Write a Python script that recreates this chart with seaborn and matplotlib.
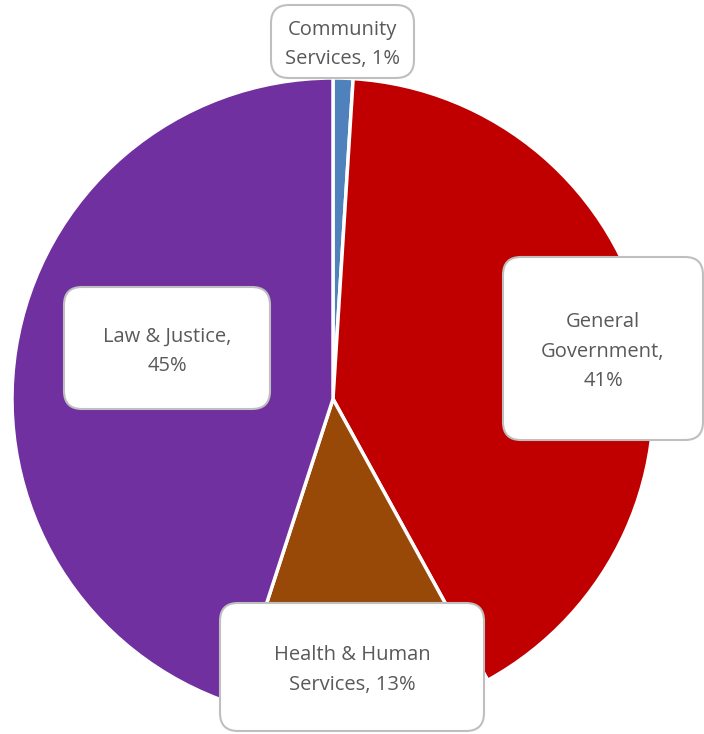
import matplotlib
matplotlib.use("Agg")
import matplotlib.pyplot as plt
from matplotlib.patches import FancyBboxPatch
import seaborn as sns

# Budget share by service area
categories = ["Community Services", "General Government", "Health & Human Services", "Law & Justice"]
shares = [1, 41, 13, 45]
label_lines = ["Community\nServices, {}%", "General\nGovernment,\n{}%", "Health & Human\nServices, {}%", "Law & Justice,\n{}%"]

sns.set_theme(style="white")
plt.rcParams["font.family"] = ["Open Sans", "DejaVu Sans"]

colors = sns.color_palette(["#4F81BD", "#C00000", "#984807", "#7030A0"])

W, H = 704, 734
fig = plt.figure(figsize=(W / 100, H / 100), dpi=100)
ax = fig.add_axes([0, 0, 1, 1])

cx, cy, r = 333, H - 399, 321
ax.pie(shares, colors=colors, startangle=90, counterclock=False,
       center=(cx, cy), radius=r, frame=True,
       wedgeprops=dict(edgecolor="white", linewidth=2.5))
ax.set_xlim(0, W)
ax.set_ylim(0, H)
ax.set_aspect("equal")
ax.axis("off")

# Label boxes: (x0, y0_top, width, height) in pixel coords from top-left
boxes = [
    (271, 5, 143, 73),
    (503, 257, 200, 183),
    (220, 603, 264, 128),
    (64, 287, 206, 122),
]
for (x0, y0, bw, bh), tmpl, v in zip(boxes, label_lines, shares):
    patch = FancyBboxPatch((x0 + 12, H - y0 - bh + 12), bw - 24, bh - 24,
                           boxstyle="round,pad=12,rounding_size=18",
                           facecolor="white", edgecolor="#BFBFBF", linewidth=1.5,
                           zorder=5)
    ax.add_patch(patch)
    ax.text(x0 + bw / 2, H - y0 - bh / 2 - 3, tmpl.format(v), ha="center", va="center",
            fontsize=14.5, color="#595959", linespacing=1.62, zorder=6)

fig.savefig("out.png", dpi=100)
